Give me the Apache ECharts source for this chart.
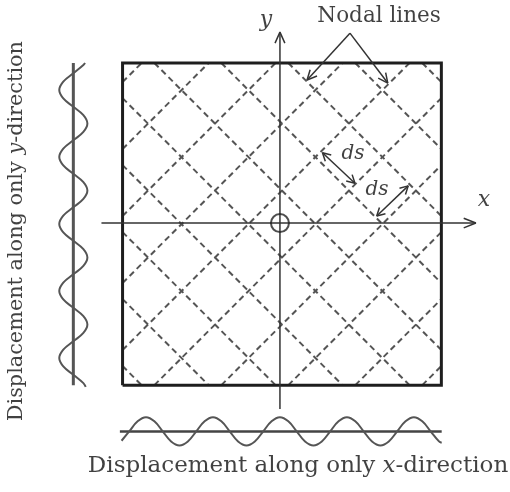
<!DOCTYPE html>
<html><head><meta charset="utf-8">
<script src="https://cdn.jsdelivr.net/npm/echarts@6/dist/echarts.min.js"></script>
<style>html,body{margin:0;padding:0;background:#fff}#c{width:510px;height:492px}</style>
</head><body><div id="c"></div><script>
// Diagram units: 1 unit = half the spacing between nodal-line intercepts
const VIEW_X = [-8.42, 6.81];
const VIEW_Y = [-8.0, 6.69];
const PLATE_HALF = [4.76, 4.81];            // half width, half height
const NODAL_OFFSETS = [-9, -7, -5, -3, -1, 1, 3, 5, 7, 9]; // u+v=c and u-v=c
const AXIS_ORIGIN = [-0.06, 0.03];
const X_AXIS_SPAN = [-5.39, 5.79];
const Y_AXIS_SPAN = [-5.52, 5.73];
const BOTTOM_BASE_V = -6.19, BOTTOM_BASE_U = [-4.84, 4.77];
const LEFT_BASE_U = -6.23, LEFT_BASE_V = [-4.81, 4.81];
const BOTTOM_WAVE = [[-4.79,-6.47],[-4.56,-6.19],[-4.31,-5.89],[-4.06,-5.77],[-3.81,-5.89],[-3.56,-6.19],[-3.31,-6.49],[-3.06,-6.61],[-2.81,-6.49],[-2.56,-6.19],[-2.31,-5.89],[-2.06,-5.77],[-1.81,-5.89],[-1.56,-6.19],[-1.31,-6.49],[-1.06,-6.61],[-0.81,-6.49],[-0.56,-6.19],[-0.31,-5.89],[-0.06,-5.77],[0.19,-5.89],[0.44,-6.19],[0.69,-6.49],[0.94,-6.61],[1.19,-6.49],[1.44,-6.19],[1.69,-5.89],[1.94,-5.77],[2.19,-5.89],[2.44,-6.19],[2.69,-6.49],[2.94,-6.61],[3.19,-6.49],[3.44,-6.19],[3.69,-5.89],[3.94,-5.77],[4.19,-5.89],[4.44,-6.19],[4.69,-6.49],[4.77,-6.53]];
const LEFT_WAVE = [[-5.88,4.81],[-5.93,4.75],[-6.23,4.5],[-6.53,4.25],[-6.65,4.0],[-6.53,3.75],[-6.23,3.5],[-5.93,3.25],[-5.81,3.0],[-5.93,2.75],[-6.23,2.5],[-6.53,2.25],[-6.65,2.0],[-6.53,1.75],[-6.23,1.5],[-5.93,1.25],[-5.81,1.0],[-5.93,0.75],[-6.23,0.5],[-6.53,0.25],[-6.65,0.0],[-6.53,-0.25],[-6.23,-0.5],[-5.93,-0.75],[-5.81,-1.0],[-5.93,-1.25],[-6.23,-1.5],[-6.53,-1.75],[-6.65,-2.0],[-6.53,-2.25],[-6.23,-2.5],[-5.93,-2.75],[-5.81,-3.0],[-5.93,-3.25],[-6.23,-3.5],[-6.53,-3.75],[-6.65,-4.0],[-6.53,-4.25],[-6.23,-4.5],[-5.93,-4.75],[-5.86,-4.86]];
const NODAL_ARROWS = [[[2.03,5.70],[0.75,4.30]], [[2.03,5.70],[3.16,4.21]]];
const DS_ARROWS = [[[1.21,2.13],[2.18,1.22]], [[2.83,0.24],[3.77,1.14]]];
const LABELS = [
  {pos:[-0.48, 6.09], text:'{i|y}', size:22},
  {pos:[6.03, 0.72], text:'{i|x}', size:22},
  {pos:[2.90, 6.21], text:'{n|Nodal lines}', size:21.5},
  {pos:[2.12, 2.09], text:'{i|ds}', size:20},
  {pos:[2.84, 1.01], text:'{i|ds}', size:20},
  {pos:[0.48, -7.22], text:'{n|Displacement along only }{i|x}{n|-direction}', size:23},
  {pos:[-7.91, -0.21], text:'{n|Displacement along only }{i|y}{n|-direction}', size:20.8, rotate:90}
];

const FONT = '"DejaVu Serif", "Liberation Serif", serif';
const series = [];
function poly(points, style, extra) {
  series.push(Object.assign({type:'line', data:points, showSymbol:false, symbol:'none',
    silent:true, animation:false, lineStyle:style, z:2}, extra||{}));
}
function head(tip, from, len, ang) {
  const dx = tip[0]-from[0], dy = tip[1]-from[1], d = Math.hypot(dx,dy);
  const ux = dx/d, uy = dy/d;
  const arm = s => {
    const c = Math.cos(s*ang), sn = Math.sin(s*ang);
    const rx = ux*c - uy*sn, ry = ux*sn + uy*c;
    return [tip[0]-len*rx, tip[1]-len*ry];
  };
  return [arm(1), tip, arm(-1)];
}
const W = PLATE_HALF[0], H = PLATE_HALF[1];
// nodal lines
NODAL_OFFSETS.forEach(c => {
  let a = Math.max(-W, c-H), b = Math.min(W, c+H);
  if (a < b) poly([[a, c-a],[b, c-b]], {color:'#555', width:2, type:[6,4]});
  a = Math.max(-W, c-H); b = Math.min(W, c+H);
  if (a < b) poly([[a, a-c],[b, b-c]], {color:'#555', width:2, type:[6,4]});
});
// plate
poly([[-W,-H],[-W,H],[W,H],[W,-H],[-W,-H]], {color:'#1e1e1e', width:3, join:'miter'}, {z:3});
// axes
const axStyle = {color:'#333', width:1.5};
poly([[X_AXIS_SPAN[0],AXIS_ORIGIN[1]],[X_AXIS_SPAN[1],AXIS_ORIGIN[1]]], axStyle, {z:4});
poly(head([X_AXIS_SPAN[1],AXIS_ORIGIN[1]],[0,AXIS_ORIGIN[1]],0.39,0.38), axStyle, {z:4});
poly([[AXIS_ORIGIN[0],Y_AXIS_SPAN[0]],[AXIS_ORIGIN[0],Y_AXIS_SPAN[1]]], axStyle, {z:4});
poly(head([AXIS_ORIGIN[0],Y_AXIS_SPAN[1]],[AXIS_ORIGIN[0],0],0.36,0.42), axStyle, {z:4});
// pointer arrows
const arStyle = {color:'#333', width:1.5};
NODAL_ARROWS.forEach(([f,t]) => { poly([f,t], arStyle, {z:5}); poly(head(t,f,0.32,0.45), arStyle, {z:5}); });
DS_ARROWS.forEach(([f,t]) => { poly([f,t], arStyle, {z:5}); poly(head(t,f,0.27,0.5), arStyle, {z:5}); poly(head(f,t,0.27,0.5), arStyle, {z:5}); });
// waves
poly([[BOTTOM_BASE_U[0],BOTTOM_BASE_V],[BOTTOM_BASE_U[1],BOTTOM_BASE_V]], {color:'#444', width:2.5});
poly(BOTTOM_WAVE, {color:'#555', width:2}, {smooth:0.4});
poly([[LEFT_BASE_U,LEFT_BASE_V[0]],[LEFT_BASE_U,LEFT_BASE_V[1]]], {color:'#555', width:3});
poly(LEFT_WAVE, {color:'#555', width:2}, {smooth:0.4});
// origin mark
series.push({type:'scatter', data:[AXIS_ORIGIN], symbol:'circle', symbolSize:18, silent:true, animation:false, z:6,
  itemStyle:{color:'rgba(0,0,0,0)', borderColor:'#222', borderWidth:2}});
// labels
LABELS.forEach(l => {
  series.push({type:'scatter', data:[l.pos], symbol:'circle', symbolSize:1, silent:true, animation:false, z:7,
    itemStyle:{color:'rgba(0,0,0,0)'},
    label:{show:true, position:'inside', rotate:l.rotate||0,
      formatter:l.text, color:'#000',
      rich:{n:{fontFamily:FONT, fontSize:l.size, color:'#111'},
            i:{fontFamily:FONT, fontSize:l.size, fontStyle:'italic', color:'#111'}}}});
});

const chart = echarts.init(document.getElementById('c'), null, {renderer:'canvas'});
chart.setOption({
  animation:false,
  backgroundColor:'#fff',
  grid:{left:0, right:0, top:0, bottom:0, containLabel:false},
  xAxis:{type:'value', min:VIEW_X[0], max:VIEW_X[1], show:false},
  yAxis:{type:'value', min:VIEW_Y[0], max:VIEW_Y[1], show:false},
  series:series
});
</script></body></html>
